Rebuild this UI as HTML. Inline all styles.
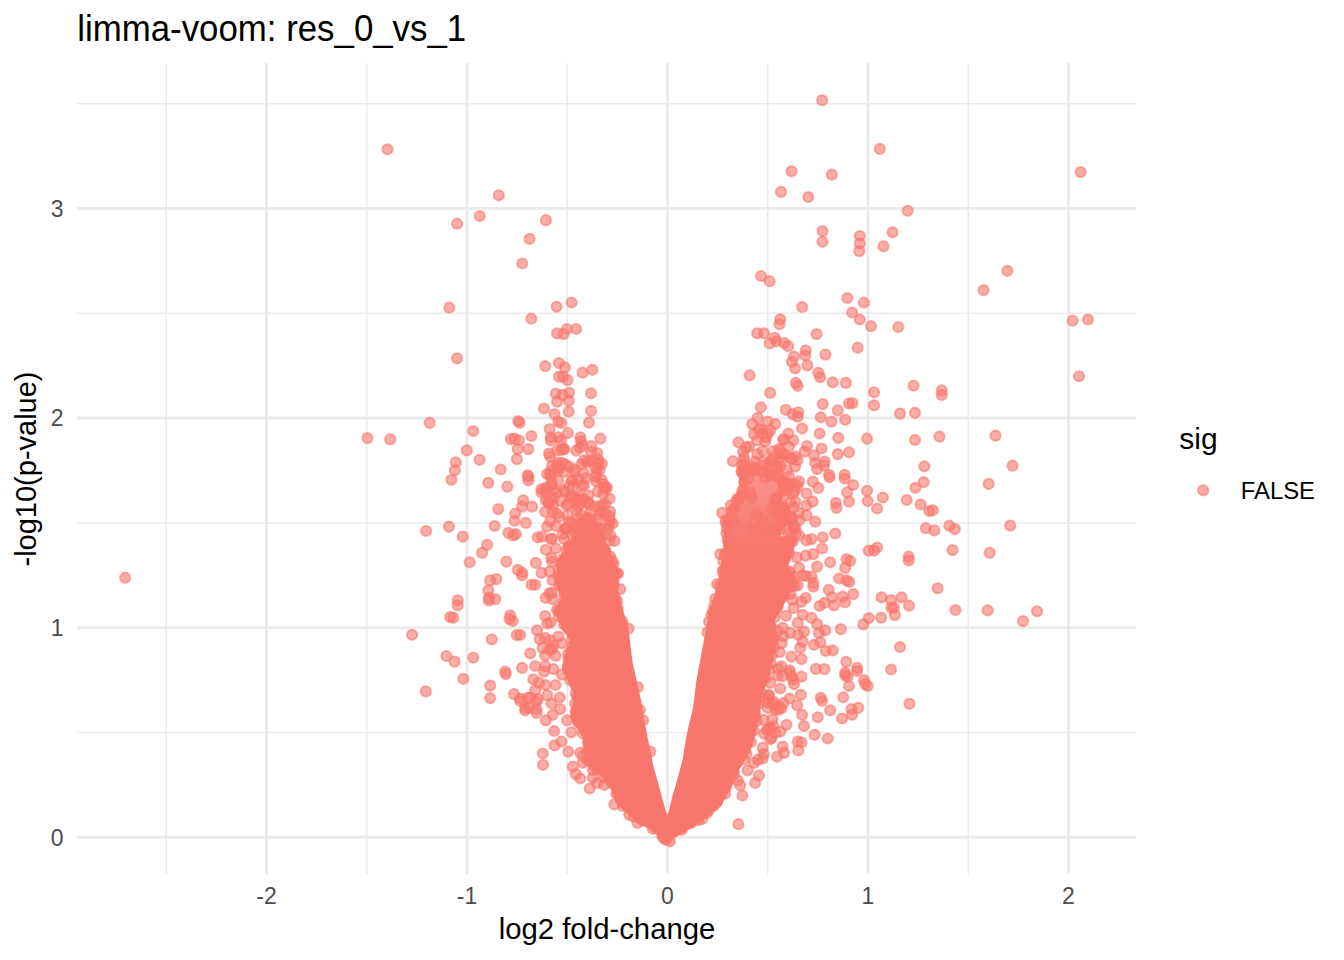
<!DOCTYPE html>
<html><head><meta charset="utf-8"><style>
html,body{margin:0;padding:0;background:#fff;}
svg{display:block;font-family:"Liberation Sans",sans-serif;}
</style></head><body>
<svg width="1344" height="960" viewBox="0 0 1344 960">
<rect width="1344" height="960" fill="#fff"/>
<line x1="166.25" y1="63" x2="166.25" y2="874" stroke="#EBEBEB" stroke-width="1.5"/><line x1="366.75" y1="63" x2="366.75" y2="874" stroke="#EBEBEB" stroke-width="1.5"/><line x1="567.25" y1="63" x2="567.25" y2="874" stroke="#EBEBEB" stroke-width="1.5"/><line x1="767.75" y1="63" x2="767.75" y2="874" stroke="#EBEBEB" stroke-width="1.5"/><line x1="968.25" y1="63" x2="968.25" y2="874" stroke="#EBEBEB" stroke-width="1.5"/><line x1="77" y1="732.50" x2="1136" y2="732.50" stroke="#EBEBEB" stroke-width="1.5"/><line x1="77" y1="522.90" x2="1136" y2="522.90" stroke="#EBEBEB" stroke-width="1.5"/><line x1="77" y1="313.30" x2="1136" y2="313.30" stroke="#EBEBEB" stroke-width="1.5"/><line x1="77" y1="103.70" x2="1136" y2="103.70" stroke="#EBEBEB" stroke-width="1.5"/><line x1="266.50" y1="63" x2="266.50" y2="874" stroke="#EBEBEB" stroke-width="3"/><line x1="467.00" y1="63" x2="467.00" y2="874" stroke="#EBEBEB" stroke-width="3"/><line x1="667.50" y1="63" x2="667.50" y2="874" stroke="#EBEBEB" stroke-width="3"/><line x1="868.00" y1="63" x2="868.00" y2="874" stroke="#EBEBEB" stroke-width="3"/><line x1="1068.50" y1="63" x2="1068.50" y2="874" stroke="#EBEBEB" stroke-width="3"/><line x1="77" y1="837.30" x2="1136" y2="837.30" stroke="#EBEBEB" stroke-width="3"/><line x1="77" y1="627.70" x2="1136" y2="627.70" stroke="#EBEBEB" stroke-width="3"/><line x1="77" y1="418.10" x2="1136" y2="418.10" stroke="#EBEBEB" stroke-width="3"/><line x1="77" y1="208.50" x2="1136" y2="208.50" stroke="#EBEBEB" stroke-width="3"/>
<defs><linearGradient id="cg" gradientUnits="userSpaceOnUse" x1="0" y1="475" x2="0" y2="545"><stop offset="0" stop-color="#F8766D" stop-opacity="0.78"/><stop offset="1" stop-color="#F8766D" stop-opacity="1"/></linearGradient></defs><path d="M667.5,817.0 L672.3,796.5 L676.7,781.7 L682.7,759.3 L685.7,740.0 L689.3,723.0 L692.9,708.6 L696.5,679.9 L700.1,660.7 L704.9,634.4 L709.2,611.0 L717.5,586.0 L723.8,548.0 L723.8,519.0 L738.3,492.0 L740.0,470.0 L755.0,465.0 L767.5,469.0 L792.5,481.7 L780.0,502.5 L788.3,519.0 L780.0,536.0 L796.7,540.0 L788.3,565.0 L796.7,581.7 L788.3,596.0 L775.0,620.0 L777.0,640.0 L773.0,661.0 L769.0,678.0 L762.0,695.0 L760.0,714.0 L755.0,736.0 L750.0,752.0 L740.0,768.0 L732.0,786.0 L721.0,806.0 L705.0,819.0 L690.0,829.0 L676.0,837.0 L667.5,842.7 Z" fill="url(#cg)"/><path d="M667.5,817.0 L653.3,765.8 L645.0,724.2 L640.8,699.2 L632.5,661.7 L628.3,627.5 L622.0,606.7 L617.9,590.0 L620.0,573.3 L612.0,555.0 L600.0,530.0 L590.0,512.0 L582.0,516.0 L572.0,540.0 L557.5,560.8 L555.4,585.8 L561.7,598.3 L553.3,610.8 L561.7,627.5 L570.0,640.8 L561.7,667.9 L574.2,695.0 L570.0,717.9 L582.5,736.7 L584.6,761.7 L609.6,784.6 L615.8,803.3 L630.4,815.8 L636.5,823.3 L647.0,827.8 L657.4,835.2 L667.5,842.7 Z" fill="url(#cg)"/><path d="M667.5,815.0 L675.0,828.0 L672.0,841.0 L663.0,841.0 L660.0,828.0 Z" fill="url(#cg)"/>
<g fill="#F8766D" fill-opacity="0.6" stroke="#F8766D" stroke-opacity="0.6" stroke-width="2">
<circle cx="387.6" cy="149.3" r="5.1"/><circle cx="498.8" cy="195.3" r="5.1"/><circle cx="479.8" cy="216.0" r="5.1"/><circle cx="457.1" cy="223.7" r="5.1"/><circle cx="545.9" cy="220.2" r="5.1"/><circle cx="822.2" cy="100.3" r="5.1"/><circle cx="879.8" cy="148.9" r="5.1"/><circle cx="791.5" cy="171.3" r="5.1"/><circle cx="831.9" cy="174.7" r="5.1"/><circle cx="781.0" cy="191.9" r="5.1"/><circle cx="808.3" cy="197.0" r="5.1"/><circle cx="907.7" cy="210.8" r="5.1"/><circle cx="1080.7" cy="172.1" r="5.1"/><circle cx="529.6" cy="238.9" r="5.1"/><circle cx="522.2" cy="263.5" r="5.1"/><circle cx="449.3" cy="307.7" r="5.1"/><circle cx="531.3" cy="318.7" r="5.1"/><circle cx="457.1" cy="358.4" r="5.1"/><circle cx="545.3" cy="366.1" r="5.1"/><circle cx="556.6" cy="306.8" r="5.1"/><circle cx="571.6" cy="302.5" r="5.1"/><circle cx="566.9" cy="329.0" r="5.1"/><circle cx="576.1" cy="329.0" r="5.1"/><circle cx="557.1" cy="333.4" r="5.1"/><circle cx="563.6" cy="334.1" r="5.1"/><circle cx="558.9" cy="363.0" r="5.1"/><circle cx="564.8" cy="367.4" r="5.1"/><circle cx="563.2" cy="376.8" r="5.1"/><circle cx="567.6" cy="380.1" r="5.1"/><circle cx="582.6" cy="372.6" r="5.1"/><circle cx="592.4" cy="369.8" r="5.1"/><circle cx="429.6" cy="422.9" r="5.1"/><circle cx="473.3" cy="431.0" r="5.1"/><circle cx="466.8" cy="450.4" r="5.1"/><circle cx="479.6" cy="459.8" r="5.1"/><circle cx="455.8" cy="462.3" r="5.1"/><circle cx="454.9" cy="470.4" r="5.1"/><circle cx="451.4" cy="479.8" r="5.1"/><circle cx="500.6" cy="469.5" r="5.1"/><circle cx="488.3" cy="482.9" r="5.1"/><circle cx="507.3" cy="486.6" r="5.1"/><circle cx="518.3" cy="421.0" r="5.1"/><circle cx="519.6" cy="422.9" r="5.1"/><circle cx="510.8" cy="439.1" r="5.1"/><circle cx="514.6" cy="438.5" r="5.1"/><circle cx="519.0" cy="440.4" r="5.1"/><circle cx="531.5" cy="436.0" r="5.1"/><circle cx="517.7" cy="449.1" r="5.1"/><circle cx="528.3" cy="449.1" r="5.1"/><circle cx="516.8" cy="459.1" r="5.1"/><circle cx="527.7" cy="475.4" r="5.1"/><circle cx="528.3" cy="476.6" r="5.1"/><circle cx="544.0" cy="408.5" r="5.1"/><circle cx="555.8" cy="393.5" r="5.1"/><circle cx="557.1" cy="401.6" r="5.1"/><circle cx="554.6" cy="414.1" r="5.1"/><circle cx="549.6" cy="429.1" r="5.1"/><circle cx="550.8" cy="437.3" r="5.1"/><circle cx="558.3" cy="437.3" r="5.1"/><circle cx="558.3" cy="421.6" r="5.1"/><circle cx="549.0" cy="453.5" r="5.1"/><circle cx="550.2" cy="456.6" r="5.1"/><circle cx="557.1" cy="450.4" r="5.1"/><circle cx="558.3" cy="462.9" r="5.1"/><circle cx="558.3" cy="470.4" r="5.1"/><circle cx="547.1" cy="474.1" r="5.1"/><circle cx="551.5" cy="477.3" r="5.1"/><circle cx="550.8" cy="485.4" r="5.1"/><circle cx="541.5" cy="489.1" r="5.1"/><circle cx="559.0" cy="376.6" r="5.1"/><circle cx="528.3" cy="480.4" r="5.1"/><circle cx="498.3" cy="509.1" r="5.1"/><circle cx="523.3" cy="500.4" r="5.1"/><circle cx="522.1" cy="506.6" r="5.1"/><circle cx="515.2" cy="513.5" r="5.1"/><circle cx="532.1" cy="506.6" r="5.1"/><circle cx="514.6" cy="521.0" r="5.1"/><circle cx="525.8" cy="522.9" r="5.1"/><circle cx="494.6" cy="526.0" r="5.1"/><circle cx="448.9" cy="526.6" r="5.1"/><circle cx="426.1" cy="531.0" r="5.1"/><circle cx="462.7" cy="536.6" r="5.1"/><circle cx="508.3" cy="532.9" r="5.1"/><circle cx="513.3" cy="535.4" r="5.1"/><circle cx="515.8" cy="534.1" r="5.1"/><circle cx="537.7" cy="537.3" r="5.1"/><circle cx="487.1" cy="544.8" r="5.1"/><circle cx="482.1" cy="552.9" r="5.1"/><circle cx="469.6" cy="562.3" r="5.1"/><circle cx="506.4" cy="561.6" r="5.1"/><circle cx="517.7" cy="569.8" r="5.1"/><circle cx="522.1" cy="575.4" r="5.1"/><circle cx="535.8" cy="562.9" r="5.1"/><circle cx="541.5" cy="572.9" r="5.1"/><circle cx="531.5" cy="584.8" r="5.1"/><circle cx="535.2" cy="584.8" r="5.1"/><circle cx="490.2" cy="580.4" r="5.1"/><circle cx="496.4" cy="579.1" r="5.1"/><circle cx="488.3" cy="590.4" r="5.1"/><circle cx="488.9" cy="597.9" r="5.1"/><circle cx="495.2" cy="599.1" r="5.1"/><circle cx="457.7" cy="600.4" r="5.1"/><circle cx="541.5" cy="492.3" r="5.1"/><circle cx="545.8" cy="500.4" r="5.1"/><circle cx="545.2" cy="511.6" r="5.1"/><circle cx="547.1" cy="526.6" r="5.1"/><circle cx="555.8" cy="526.0" r="5.1"/><circle cx="552.1" cy="538.5" r="5.1"/><circle cx="545.8" cy="549.8" r="5.1"/><circle cx="555.8" cy="548.5" r="5.1"/><circle cx="552.1" cy="561.6" r="5.1"/><circle cx="549.6" cy="571.6" r="5.1"/><circle cx="552.7" cy="580.4" r="5.1"/><circle cx="552.1" cy="592.9" r="5.1"/><circle cx="545.8" cy="597.9" r="5.1"/><circle cx="488.9" cy="600.4" r="5.1"/><circle cx="457.7" cy="605.4" r="5.1"/><circle cx="453.3" cy="617.6" r="5.1"/><circle cx="510.2" cy="615.4" r="5.1"/><circle cx="509.6" cy="619.1" r="5.1"/><circle cx="512.7" cy="621.0" r="5.1"/><circle cx="412.1" cy="634.8" r="5.1"/><circle cx="491.8" cy="639.4" r="5.1"/><circle cx="516.7" cy="635.1" r="5.1"/><circle cx="446.4" cy="656.0" r="5.1"/><circle cx="454.6" cy="661.6" r="5.1"/><circle cx="473.3" cy="657.6" r="5.1"/><circle cx="463.3" cy="678.8" r="5.1"/><circle cx="490.2" cy="685.6" r="5.1"/><circle cx="490.2" cy="698.1" r="5.1"/><circle cx="425.8" cy="691.4" r="5.1"/><circle cx="505.2" cy="671.6" r="5.1"/><circle cx="505.8" cy="674.1" r="5.1"/><circle cx="522.1" cy="667.9" r="5.1"/><circle cx="530.2" cy="653.5" r="5.1"/><circle cx="535.2" cy="666.0" r="5.1"/><circle cx="544.0" cy="671.6" r="5.1"/><circle cx="553.3" cy="669.1" r="5.1"/><circle cx="533.3" cy="679.4" r="5.1"/><circle cx="539.0" cy="682.9" r="5.1"/><circle cx="514.0" cy="694.1" r="5.1"/><circle cx="520.2" cy="698.5" r="5.1"/><circle cx="535.2" cy="690.4" r="5.1"/><circle cx="537.7" cy="699.1" r="5.1"/><circle cx="527.7" cy="697.9" r="5.1"/><circle cx="525.2" cy="707.9" r="5.1"/><circle cx="536.5" cy="709.1" r="5.1"/><circle cx="552.7" cy="599.1" r="5.1"/><circle cx="545.2" cy="616.0" r="5.1"/><circle cx="537.1" cy="630.4" r="5.1"/><circle cx="539.6" cy="639.1" r="5.1"/><circle cx="545.2" cy="637.9" r="5.1"/><circle cx="550.2" cy="640.4" r="5.1"/><circle cx="558.3" cy="636.6" r="5.1"/><circle cx="542.7" cy="647.9" r="5.1"/><circle cx="545.2" cy="655.4" r="5.1"/><circle cx="552.1" cy="649.1" r="5.1"/><circle cx="520.2" cy="701.0" r="5.1"/><circle cx="525.2" cy="710.4" r="5.1"/><circle cx="529.0" cy="707.9" r="5.1"/><circle cx="536.5" cy="712.9" r="5.1"/><circle cx="536.5" cy="701.6" r="5.1"/><circle cx="545.8" cy="720.4" r="5.1"/><circle cx="552.7" cy="714.8" r="5.1"/><circle cx="551.5" cy="703.5" r="5.1"/><circle cx="560.2" cy="709.1" r="5.1"/><circle cx="567.1" cy="720.4" r="5.1"/><circle cx="554.2" cy="731.0" r="5.1"/><circle cx="554.6" cy="745.4" r="5.1"/><circle cx="561.5" cy="741.6" r="5.1"/><circle cx="568.3" cy="751.6" r="5.1"/><circle cx="571.5" cy="732.3" r="5.1"/><circle cx="542.7" cy="753.5" r="5.1"/><circle cx="543.0" cy="764.8" r="5.1"/><circle cx="572.7" cy="766.6" r="5.1"/><circle cx="575.8" cy="774.1" r="5.1"/><circle cx="580.2" cy="778.5" r="5.1"/><circle cx="589.6" cy="788.5" r="5.1"/><circle cx="592.7" cy="777.9" r="5.1"/><circle cx="582.7" cy="762.9" r="5.1"/><circle cx="580.2" cy="752.9" r="5.1"/><circle cx="562.5" cy="394.9" r="5.1"/><circle cx="569.1" cy="392.9" r="5.1"/><circle cx="568.7" cy="400.7" r="5.1"/><circle cx="568.7" cy="411.6" r="5.1"/><circle cx="591.0" cy="393.3" r="5.1"/><circle cx="591.0" cy="410.9" r="5.1"/><circle cx="589.0" cy="422.6" r="5.1"/><circle cx="561.3" cy="423.0" r="5.1"/><circle cx="567.9" cy="433.1" r="5.1"/><circle cx="580.4" cy="437.4" r="5.1"/><circle cx="600.4" cy="438.6" r="5.1"/><circle cx="582.4" cy="445.2" r="5.1"/><circle cx="561.3" cy="449.9" r="5.1"/><circle cx="576.1" cy="450.7" r="5.1"/><circle cx="591.0" cy="451.5" r="5.1"/><circle cx="597.2" cy="453.1" r="5.1"/><circle cx="550.8" cy="440.4" r="5.1"/><circle cx="560.8" cy="440.4" r="5.1"/><circle cx="580.8" cy="441.0" r="5.1"/><circle cx="584.0" cy="460.4" r="5.1"/><circle cx="562.1" cy="462.9" r="5.1"/><circle cx="569.0" cy="466.6" r="5.1"/><circle cx="581.5" cy="464.1" r="5.1"/><circle cx="599.6" cy="469.8" r="5.1"/><circle cx="595.2" cy="476.6" r="5.1"/><circle cx="584.0" cy="473.5" r="5.1"/><circle cx="603.3" cy="484.1" r="5.1"/><circle cx="564.0" cy="471.6" r="5.1"/><circle cx="571.5" cy="480.4" r="5.1"/><circle cx="572.7" cy="486.6" r="5.1"/><circle cx="584.0" cy="485.4" r="5.1"/><circle cx="597.7" cy="491.6" r="5.1"/><circle cx="609.6" cy="498.5" r="5.1"/><circle cx="605.2" cy="504.1" r="5.1"/><circle cx="600.2" cy="506.6" r="5.1"/><circle cx="545.2" cy="491.6" r="5.1"/><circle cx="552.7" cy="490.4" r="5.1"/><circle cx="554.0" cy="497.9" r="5.1"/><circle cx="548.3" cy="501.6" r="5.1"/><circle cx="565.2" cy="491.6" r="5.1"/><circle cx="570.2" cy="497.9" r="5.1"/><circle cx="566.5" cy="505.4" r="5.1"/><circle cx="576.5" cy="500.4" r="5.1"/><circle cx="584.0" cy="499.1" r="5.1"/><circle cx="588.3" cy="495.4" r="5.1"/><circle cx="552.7" cy="511.6" r="5.1"/><circle cx="559.0" cy="516.6" r="5.1"/><circle cx="567.7" cy="515.4" r="5.1"/><circle cx="576.5" cy="510.4" r="5.1"/><circle cx="581.5" cy="515.4" r="5.1"/><circle cx="590.2" cy="512.9" r="5.1"/><circle cx="599.0" cy="515.4" r="5.1"/><circle cx="605.2" cy="514.1" r="5.1"/><circle cx="569.0" cy="521.6" r="5.1"/><circle cx="576.5" cy="527.9" r="5.1"/><circle cx="590.2" cy="525.4" r="5.1"/><circle cx="599.0" cy="527.9" r="5.1"/><circle cx="607.7" cy="529.1" r="5.1"/><circle cx="610.2" cy="535.4" r="5.1"/><circle cx="609.6" cy="540.4" r="5.1"/><circle cx="542.1" cy="536.6" r="5.1"/><circle cx="564.0" cy="539.1" r="5.1"/><circle cx="572.7" cy="535.4" r="5.1"/><circle cx="581.5" cy="535.4" r="5.1"/><circle cx="592.7" cy="535.4" r="5.1"/><circle cx="600.2" cy="537.9" r="5.1"/><circle cx="566.5" cy="550.4" r="5.1"/><circle cx="577.7" cy="546.6" r="5.1"/><circle cx="587.7" cy="545.4" r="5.1"/><circle cx="596.5" cy="547.9" r="5.1"/><circle cx="605.2" cy="550.4" r="5.1"/><circle cx="610.2" cy="556.6" r="5.1"/><circle cx="551.5" cy="557.9" r="5.1"/><circle cx="562.7" cy="559.1" r="5.1"/><circle cx="574.0" cy="556.6" r="5.1"/><circle cx="584.0" cy="555.4" r="5.1"/><circle cx="595.2" cy="555.4" r="5.1"/><circle cx="605.2" cy="559.1" r="5.1"/><circle cx="892.5" cy="232.3" r="5.1"/><circle cx="1007.4" cy="270.8" r="5.1"/><circle cx="983.6" cy="290.1" r="5.1"/><circle cx="898.3" cy="327.0" r="5.1"/><circle cx="1072.6" cy="320.7" r="5.1"/><circle cx="1088.0" cy="319.5" r="5.1"/><circle cx="1079.0" cy="376.3" r="5.1"/><circle cx="913.6" cy="385.7" r="5.1"/><circle cx="941.8" cy="390.4" r="5.1"/><circle cx="941.8" cy="395.0" r="5.1"/><circle cx="900.0" cy="413.6" r="5.1"/><circle cx="915.0" cy="412.8" r="5.1"/><circle cx="915.0" cy="440.0" r="5.1"/><circle cx="939.5" cy="436.7" r="5.1"/><circle cx="995.6" cy="435.7" r="5.1"/><circle cx="924.3" cy="466.3" r="5.1"/><circle cx="1012.5" cy="465.7" r="5.1"/><circle cx="923.6" cy="482.2" r="5.1"/><circle cx="915.5" cy="487.8" r="5.1"/><circle cx="988.6" cy="483.9" r="5.1"/><circle cx="906.7" cy="500.0" r="5.1"/><circle cx="920.6" cy="504.5" r="5.1"/><circle cx="932.8" cy="510.3" r="5.1"/><circle cx="925.8" cy="528.2" r="5.1"/><circle cx="934.3" cy="530.4" r="5.1"/><circle cx="949.3" cy="525.7" r="5.1"/><circle cx="954.9" cy="529.1" r="5.1"/><circle cx="1010.2" cy="525.7" r="5.1"/><circle cx="952.5" cy="550.1" r="5.1"/><circle cx="989.6" cy="552.9" r="5.1"/><circle cx="908.6" cy="556.7" r="5.1"/><circle cx="937.6" cy="588.3" r="5.1"/><circle cx="901.5" cy="597.3" r="5.1"/><circle cx="909.0" cy="605.7" r="5.1"/><circle cx="955.5" cy="610.0" r="5.1"/><circle cx="987.7" cy="610.4" r="5.1"/><circle cx="1037.0" cy="611.3" r="5.1"/><circle cx="1023.0" cy="621.1" r="5.1"/><circle cx="900.0" cy="647.0" r="5.1"/><circle cx="909.5" cy="703.8" r="5.1"/><circle cx="891.1" cy="600.1" r="5.1"/><circle cx="894.0" cy="607.6" r="5.1"/><circle cx="894.9" cy="615.1" r="5.1"/><circle cx="891.1" cy="669.5" r="5.1"/><circle cx="830.2" cy="562.3" r="5.1"/><circle cx="850.2" cy="561.0" r="5.1"/><circle cx="908.7" cy="560.4" r="5.1"/><circle cx="799.0" cy="567.9" r="5.1"/><circle cx="817.1" cy="566.6" r="5.1"/><circle cx="845.2" cy="567.9" r="5.1"/><circle cx="839.2" cy="578.5" r="5.1"/><circle cx="849.2" cy="581.9" r="5.1"/><circle cx="813.3" cy="586.6" r="5.1"/><circle cx="805.8" cy="576.0" r="5.1"/><circle cx="811.5" cy="576.6" r="5.1"/><circle cx="828.7" cy="589.8" r="5.1"/><circle cx="832.1" cy="597.3" r="5.1"/><circle cx="842.7" cy="596.6" r="5.1"/><circle cx="853.3" cy="594.1" r="5.1"/><circle cx="819.6" cy="606.0" r="5.1"/><circle cx="824.6" cy="602.9" r="5.1"/><circle cx="834.0" cy="605.4" r="5.1"/><circle cx="845.2" cy="602.3" r="5.1"/><circle cx="801.5" cy="601.6" r="5.1"/><circle cx="805.8" cy="597.9" r="5.1"/><circle cx="881.5" cy="597.3" r="5.1"/><circle cx="891.5" cy="607.9" r="5.1"/><circle cx="881.2" cy="617.6" r="5.1"/><circle cx="868.7" cy="618.1" r="5.1"/><circle cx="863.3" cy="624.4" r="5.1"/><circle cx="802.7" cy="614.8" r="5.1"/><circle cx="811.5" cy="617.9" r="5.1"/><circle cx="817.1" cy="624.1" r="5.1"/><circle cx="825.2" cy="630.4" r="5.1"/><circle cx="819.0" cy="632.9" r="5.1"/><circle cx="840.8" cy="629.1" r="5.1"/><circle cx="804.0" cy="631.6" r="5.1"/><circle cx="797.7" cy="622.9" r="5.1"/><circle cx="802.7" cy="641.6" r="5.1"/><circle cx="814.0" cy="644.8" r="5.1"/><circle cx="820.2" cy="642.3" r="5.1"/><circle cx="825.8" cy="651.0" r="5.1"/><circle cx="832.7" cy="650.4" r="5.1"/><circle cx="846.2" cy="661.9" r="5.1"/><circle cx="857.1" cy="667.9" r="5.1"/><circle cx="815.8" cy="668.9" r="5.1"/><circle cx="824.6" cy="669.1" r="5.1"/><circle cx="845.2" cy="672.9" r="5.1"/><circle cx="847.7" cy="676.6" r="5.1"/><circle cx="864.0" cy="680.4" r="5.1"/><circle cx="801.5" cy="659.1" r="5.1"/><circle cx="800.2" cy="647.9" r="5.1"/><circle cx="789.6" cy="670.4" r="5.1"/><circle cx="777.7" cy="675.4" r="5.1"/><circle cx="801.5" cy="676.6" r="5.1"/><circle cx="790.2" cy="632.9" r="5.1"/><circle cx="791.5" cy="656.6" r="5.1"/><circle cx="797.7" cy="585.4" r="5.1"/><circle cx="789.0" cy="576.6" r="5.1"/><circle cx="790.2" cy="672.9" r="5.1"/><circle cx="791.5" cy="676.6" r="5.1"/><circle cx="794.0" cy="684.1" r="5.1"/><circle cx="845.2" cy="675.4" r="5.1"/><circle cx="849.0" cy="686.0" r="5.1"/><circle cx="857.1" cy="671.0" r="5.1"/><circle cx="865.2" cy="684.1" r="5.1"/><circle cx="867.7" cy="686.0" r="5.1"/><circle cx="780.2" cy="688.5" r="5.1"/><circle cx="789.6" cy="698.5" r="5.1"/><circle cx="800.8" cy="694.8" r="5.1"/><circle cx="797.1" cy="705.4" r="5.1"/><circle cx="820.8" cy="697.9" r="5.1"/><circle cx="822.1" cy="701.0" r="5.1"/><circle cx="843.3" cy="697.3" r="5.1"/><circle cx="830.2" cy="710.4" r="5.1"/><circle cx="851.5" cy="709.1" r="5.1"/><circle cx="858.3" cy="707.9" r="5.1"/><circle cx="852.1" cy="714.8" r="5.1"/><circle cx="842.1" cy="718.5" r="5.1"/><circle cx="817.7" cy="717.3" r="5.1"/><circle cx="802.1" cy="714.8" r="5.1"/><circle cx="786.5" cy="724.8" r="5.1"/><circle cx="804.0" cy="726.0" r="5.1"/><circle cx="814.6" cy="734.8" r="5.1"/><circle cx="827.7" cy="738.5" r="5.1"/><circle cx="797.7" cy="741.6" r="5.1"/><circle cx="801.5" cy="742.3" r="5.1"/><circle cx="798.3" cy="750.4" r="5.1"/><circle cx="782.7" cy="746.6" r="5.1"/><circle cx="784.0" cy="752.9" r="5.1"/><circle cx="777.1" cy="756.6" r="5.1"/><circle cx="762.7" cy="758.5" r="5.1"/><circle cx="759.0" cy="775.4" r="5.1"/><circle cx="755.2" cy="782.9" r="5.1"/><circle cx="770.2" cy="739.1" r="5.1"/><circle cx="762.7" cy="747.9" r="5.1"/><circle cx="780.2" cy="731.6" r="5.1"/><circle cx="770.2" cy="727.9" r="5.1"/><circle cx="767.7" cy="707.9" r="5.1"/><circle cx="775.2" cy="709.1" r="5.1"/><circle cx="737.7" cy="780.4" r="5.1"/><circle cx="740.2" cy="785.4" r="5.1"/><circle cx="747.7" cy="770.4" r="5.1"/><circle cx="754.0" cy="762.9" r="5.1"/><circle cx="770.2" cy="682.9" r="5.1"/><circle cx="769.0" cy="699.1" r="5.1"/><circle cx="779.0" cy="706.6" r="5.1"/><circle cx="738.4" cy="824.2" r="5.1"/><circle cx="742.4" cy="795.5" r="5.1"/><circle cx="614.4" cy="804.4" r="5.1"/><circle cx="629.3" cy="814.8" r="5.1"/><circle cx="637.5" cy="823.0" r="5.1"/><circle cx="604.0" cy="785.0" r="5.1"/><circle cx="822.5" cy="231.0" r="5.1"/><circle cx="822.5" cy="241.7" r="5.1"/><circle cx="859.8" cy="236.0" r="5.1"/><circle cx="859.8" cy="243.4" r="5.1"/><circle cx="859.3" cy="251.1" r="5.1"/><circle cx="883.5" cy="246.3" r="5.1"/><circle cx="761.0" cy="276.0" r="5.1"/><circle cx="769.6" cy="281.2" r="5.1"/><circle cx="802.2" cy="307.0" r="5.1"/><circle cx="847.4" cy="298.0" r="5.1"/><circle cx="863.8" cy="302.7" r="5.1"/><circle cx="852.1" cy="312.5" r="5.1"/><circle cx="859.8" cy="319.5" r="5.1"/><circle cx="871.0" cy="326.2" r="5.1"/><circle cx="780.2" cy="319.3" r="5.1"/><circle cx="779.5" cy="324.2" r="5.1"/><circle cx="757.2" cy="333.3" r="5.1"/><circle cx="764.1" cy="333.3" r="5.1"/><circle cx="774.7" cy="337.9" r="5.1"/><circle cx="769.6" cy="343.4" r="5.1"/><circle cx="776.5" cy="341.3" r="5.1"/><circle cx="784.2" cy="343.1" r="5.1"/><circle cx="788.1" cy="346.2" r="5.1"/><circle cx="794.0" cy="356.5" r="5.1"/><circle cx="791.9" cy="362.0" r="5.1"/><circle cx="816.5" cy="334.1" r="5.1"/><circle cx="805.7" cy="350.3" r="5.1"/><circle cx="825.4" cy="354.6" r="5.1"/><circle cx="857.6" cy="347.7" r="5.1"/><circle cx="807.4" cy="365.4" r="5.1"/><circle cx="795.2" cy="368.5" r="5.1"/><circle cx="805.2" cy="355.4" r="5.1"/><circle cx="818.3" cy="372.9" r="5.1"/><circle cx="820.2" cy="377.3" r="5.1"/><circle cx="832.7" cy="382.3" r="5.1"/><circle cx="845.8" cy="382.9" r="5.1"/><circle cx="795.8" cy="382.9" r="5.1"/><circle cx="797.7" cy="386.0" r="5.1"/><circle cx="749.6" cy="375.4" r="5.1"/><circle cx="770.2" cy="392.9" r="5.1"/><circle cx="760.8" cy="407.3" r="5.1"/><circle cx="785.8" cy="409.8" r="5.1"/><circle cx="792.7" cy="414.1" r="5.1"/><circle cx="798.3" cy="412.3" r="5.1"/><circle cx="797.7" cy="416.6" r="5.1"/><circle cx="822.7" cy="404.1" r="5.1"/><circle cx="849.0" cy="403.5" r="5.1"/><circle cx="837.7" cy="410.4" r="5.1"/><circle cx="820.8" cy="417.3" r="5.1"/><circle cx="831.5" cy="421.6" r="5.1"/><circle cx="845.2" cy="419.8" r="5.1"/><circle cx="757.7" cy="417.9" r="5.1"/><circle cx="752.1" cy="424.1" r="5.1"/><circle cx="767.7" cy="421.6" r="5.1"/><circle cx="775.2" cy="424.1" r="5.1"/><circle cx="802.1" cy="428.5" r="5.1"/><circle cx="819.6" cy="433.5" r="5.1"/><circle cx="838.3" cy="437.9" r="5.1"/><circle cx="754.0" cy="434.1" r="5.1"/><circle cx="767.7" cy="433.5" r="5.1"/><circle cx="770.2" cy="430.4" r="5.1"/><circle cx="757.1" cy="440.4" r="5.1"/><circle cx="788.3" cy="433.5" r="5.1"/><circle cx="783.3" cy="439.8" r="5.1"/><circle cx="793.3" cy="440.4" r="5.1"/><circle cx="738.3" cy="442.3" r="5.1"/><circle cx="749.0" cy="446.6" r="5.1"/><circle cx="743.3" cy="451.6" r="5.1"/><circle cx="757.1" cy="454.1" r="5.1"/><circle cx="762.7" cy="451.0" r="5.1"/><circle cx="773.3" cy="451.0" r="5.1"/><circle cx="779.0" cy="449.1" r="5.1"/><circle cx="807.1" cy="446.0" r="5.1"/><circle cx="804.6" cy="451.6" r="5.1"/><circle cx="814.0" cy="455.4" r="5.1"/><circle cx="821.5" cy="448.5" r="5.1"/><circle cx="837.7" cy="454.1" r="5.1"/><circle cx="849.0" cy="452.3" r="5.1"/><circle cx="795.2" cy="456.6" r="5.1"/><circle cx="791.5" cy="459.1" r="5.1"/><circle cx="824.6" cy="461.6" r="5.1"/><circle cx="815.2" cy="462.9" r="5.1"/><circle cx="817.1" cy="469.1" r="5.1"/><circle cx="795.2" cy="466.6" r="5.1"/><circle cx="780.2" cy="466.6" r="5.1"/><circle cx="787.1" cy="470.4" r="5.1"/><circle cx="762.7" cy="461.6" r="5.1"/><circle cx="744.0" cy="465.4" r="5.1"/><circle cx="741.5" cy="471.6" r="5.1"/><circle cx="755.2" cy="469.1" r="5.1"/><circle cx="764.0" cy="471.6" r="5.1"/><circle cx="829.0" cy="474.8" r="5.1"/><circle cx="844.6" cy="474.8" r="5.1"/><circle cx="777.7" cy="474.1" r="5.1"/><circle cx="722.1" cy="512.9" r="5.1"/><circle cx="730.8" cy="505.4" r="5.1"/><circle cx="739.0" cy="499.1" r="5.1"/><circle cx="727.7" cy="524.1" r="5.1"/><circle cx="726.5" cy="533.5" r="5.1"/><circle cx="728.3" cy="541.6" r="5.1"/><circle cx="720.2" cy="554.1" r="5.1"/><circle cx="722.7" cy="571.6" r="5.1"/><circle cx="717.1" cy="584.1" r="5.1"/><circle cx="741.5" cy="465.4" r="5.1"/><circle cx="776.5" cy="467.3" r="5.1"/><circle cx="824.0" cy="465.4" r="5.1"/><circle cx="829.6" cy="477.3" r="5.1"/><circle cx="844.6" cy="478.5" r="5.1"/><circle cx="812.7" cy="481.6" r="5.1"/><circle cx="818.3" cy="487.9" r="5.1"/><circle cx="847.1" cy="492.3" r="5.1"/><circle cx="849.0" cy="501.6" r="5.1"/><circle cx="835.8" cy="502.9" r="5.1"/><circle cx="836.5" cy="507.9" r="5.1"/><circle cx="806.5" cy="493.5" r="5.1"/><circle cx="812.7" cy="501.6" r="5.1"/><circle cx="806.5" cy="505.4" r="5.1"/><circle cx="797.7" cy="486.6" r="5.1"/><circle cx="790.2" cy="502.9" r="5.1"/><circle cx="783.3" cy="506.6" r="5.1"/><circle cx="799.0" cy="512.9" r="5.1"/><circle cx="815.2" cy="521.6" r="5.1"/><circle cx="806.5" cy="515.4" r="5.1"/><circle cx="794.0" cy="527.9" r="5.1"/><circle cx="799.0" cy="535.4" r="5.1"/><circle cx="806.5" cy="540.4" r="5.1"/><circle cx="811.5" cy="539.1" r="5.1"/><circle cx="822.7" cy="537.3" r="5.1"/><circle cx="835.2" cy="533.5" r="5.1"/><circle cx="822.1" cy="548.5" r="5.1"/><circle cx="813.3" cy="554.1" r="5.1"/><circle cx="792.7" cy="541.6" r="5.1"/><circle cx="846.5" cy="559.1" r="5.1"/><circle cx="846.5" cy="580.4" r="5.1"/><circle cx="802.7" cy="575.4" r="5.1"/><circle cx="813.3" cy="582.9" r="5.1"/><circle cx="790.2" cy="519.1" r="5.1"/><circle cx="785.2" cy="520.4" r="5.1"/><circle cx="772.7" cy="509.1" r="5.1"/><circle cx="784.0" cy="495.4" r="5.1"/><circle cx="789.0" cy="476.6" r="5.1"/><circle cx="782.7" cy="480.4" r="5.1"/><circle cx="522.3" cy="572.5" r="5.1"/><circle cx="549.4" cy="593.3" r="5.1"/><circle cx="550.4" cy="622.5" r="5.1"/><circle cx="553.5" cy="645.4" r="5.1"/><circle cx="545.2" cy="666.2" r="5.1"/><circle cx="545.2" cy="685.0" r="5.1"/><circle cx="555.6" cy="685.0" r="5.1"/><circle cx="530.6" cy="697.5" r="5.1"/><circle cx="520.2" cy="635.0" r="5.1"/><circle cx="566.0" cy="528.7" r="5.1"/><circle cx="568.1" cy="547.5" r="5.1"/><circle cx="618.1" cy="573.5" r="5.1"/><circle cx="620.2" cy="589.1" r="5.1"/><circle cx="628.5" cy="628.7" r="5.1"/><circle cx="637.9" cy="687.1" r="5.1"/><circle cx="125.2" cy="577.7" r="5.1"/><circle cx="367.5" cy="438.1" r="5.1"/><circle cx="390.2" cy="439.4" r="5.1"/><circle cx="450.2" cy="617.1" r="5.1"/><circle cx="547.3" cy="623.5" r="5.1"/><circle cx="561.9" cy="643.3" r="5.1"/><circle cx="549.4" cy="649.6" r="5.1"/><circle cx="555.6" cy="655.8" r="5.1"/><circle cx="561.9" cy="674.6" r="5.1"/><circle cx="547.3" cy="695.4" r="5.1"/><circle cx="559.8" cy="697.5" r="5.1"/><circle cx="597.3" cy="782.9" r="5.1"/><circle cx="582.7" cy="755.8" r="5.1"/><circle cx="593.1" cy="770.4" r="5.1"/><circle cx="568.1" cy="653.7" r="5.1"/><circle cx="640.0" cy="710.0" r="5.1"/><circle cx="643.1" cy="720.4" r="5.1"/><circle cx="650.4" cy="751.6" r="5.1"/><circle cx="874.0" cy="392.3" r="5.1"/><circle cx="874.0" cy="405.4" r="5.1"/><circle cx="852.5" cy="403.1" r="5.1"/><circle cx="867.1" cy="438.7" r="5.1"/><circle cx="853.1" cy="485.0" r="5.1"/><circle cx="867.1" cy="490.8" r="5.1"/><circle cx="867.7" cy="501.0" r="5.1"/><circle cx="882.9" cy="497.5" r="5.1"/><circle cx="877.1" cy="508.5" r="5.1"/><circle cx="929.2" cy="511.0" r="5.1"/><circle cx="868.7" cy="550.6" r="5.1"/><circle cx="874.0" cy="550.6" r="5.1"/><circle cx="877.1" cy="547.5" r="5.1"/><circle cx="707.4" cy="632.3" r="5.1"/><circle cx="709.0" cy="621.8" r="5.1"/><circle cx="711.4" cy="615.2" r="5.1"/><circle cx="712.7" cy="611.7" r="5.1"/><circle cx="714.4" cy="605.5" r="5.1"/><circle cx="715.3" cy="598.7" r="5.1"/><circle cx="720.9" cy="591.1" r="5.1"/><circle cx="720.0" cy="585.6" r="5.1"/><circle cx="724.4" cy="576.6" r="5.1"/><circle cx="723.3" cy="570.2" r="5.1"/><circle cx="723.3" cy="561.1" r="5.1"/><circle cx="725.2" cy="555.7" r="5.1"/><circle cx="724.8" cy="553.7" r="5.1"/><circle cx="728.6" cy="545.8" r="5.1"/><circle cx="727.6" cy="539.4" r="5.1"/><circle cx="726.8" cy="528.9" r="5.1"/><circle cx="725.6" cy="522.3" r="5.1"/><circle cx="726.0" cy="519.8" r="5.1"/><circle cx="731.5" cy="511.4" r="5.1"/><circle cx="733.9" cy="508.3" r="5.1"/><circle cx="736.2" cy="501.6" r="5.1"/><circle cx="741.5" cy="495.1" r="5.1"/><circle cx="742.2" cy="490.5" r="5.1"/><circle cx="744.1" cy="481.2" r="5.1"/><circle cx="742.5" cy="472.2" r="5.1"/><circle cx="748.0" cy="469.4" r="5.1"/><circle cx="752.1" cy="470.8" r="5.1"/><circle cx="754.9" cy="468.6" r="5.1"/><circle cx="760.2" cy="471.1" r="5.1"/><circle cx="770.6" cy="474.8" r="5.1"/><circle cx="778.0" cy="477.4" r="5.1"/><circle cx="782.6" cy="481.0" r="5.1"/><circle cx="788.4" cy="483.3" r="5.1"/><circle cx="785.4" cy="483.3" r="5.1"/><circle cx="784.3" cy="487.2" r="5.1"/><circle cx="782.4" cy="490.2" r="5.1"/><circle cx="776.4" cy="497.8" r="5.1"/><circle cx="779.9" cy="508.2" r="5.1"/><circle cx="780.1" cy="512.0" r="5.1"/><circle cx="782.6" cy="515.1" r="5.1"/><circle cx="786.1" cy="519.1" r="5.1"/><circle cx="781.3" cy="523.0" r="5.1"/><circle cx="780.2" cy="530.0" r="5.1"/><circle cx="782.1" cy="541.6" r="5.1"/><circle cx="788.3" cy="541.4" r="5.1"/><circle cx="790.8" cy="541.8" r="5.1"/><circle cx="788.2" cy="549.8" r="5.1"/><circle cx="788.9" cy="553.2" r="5.1"/><circle cx="784.9" cy="559.4" r="5.1"/><circle cx="789.1" cy="571.3" r="5.1"/><circle cx="789.4" cy="572.6" r="5.1"/><circle cx="791.5" cy="579.0" r="5.1"/><circle cx="792.0" cy="584.6" r="5.1"/><circle cx="789.7" cy="587.3" r="5.1"/><circle cx="783.8" cy="596.4" r="5.1"/><circle cx="778.1" cy="605.7" r="5.1"/><circle cx="776.5" cy="609.2" r="5.1"/><circle cx="774.6" cy="617.2" r="5.1"/><circle cx="771.0" cy="626.5" r="5.1"/><circle cx="771.6" cy="633.0" r="5.1"/><circle cx="773.5" cy="636.3" r="5.1"/><circle cx="772.9" cy="640.0" r="5.1"/><circle cx="773.8" cy="647.1" r="5.1"/><circle cx="771.9" cy="655.1" r="5.1"/><circle cx="770.7" cy="663.5" r="5.1"/><circle cx="769.0" cy="669.0" r="5.1"/><circle cx="766.0" cy="677.5" r="5.1"/><circle cx="762.0" cy="681.9" r="5.1"/><circle cx="761.0" cy="692.0" r="5.1"/><circle cx="759.0" cy="696.3" r="5.1"/><circle cx="759.1" cy="703.4" r="5.1"/><circle cx="754.7" cy="712.5" r="5.1"/><circle cx="755.9" cy="716.7" r="5.1"/><circle cx="756.3" cy="721.5" r="5.1"/><circle cx="753.6" cy="730.6" r="5.1"/><circle cx="750.9" cy="742.0" r="5.1"/><circle cx="747.4" cy="742.6" r="5.1"/><circle cx="746.5" cy="753.7" r="5.1"/><circle cx="743.5" cy="759.4" r="5.1"/><circle cx="737.0" cy="762.6" r="5.1"/><circle cx="733.8" cy="771.4" r="5.1"/><circle cx="733.9" cy="774.4" r="5.1"/><circle cx="730.0" cy="779.1" r="5.1"/><circle cx="726.0" cy="787.3" r="5.1"/><circle cx="725.0" cy="793.7" r="5.1"/><circle cx="716.9" cy="802.1" r="5.1"/><circle cx="713.5" cy="806.0" r="5.1"/><circle cx="708.5" cy="810.4" r="5.1"/><circle cx="706.9" cy="812.9" r="5.1"/><circle cx="702.3" cy="818.8" r="5.1"/><circle cx="698.4" cy="820.2" r="5.1"/><circle cx="691.3" cy="823.0" r="5.1"/><circle cx="681.7" cy="830.0" r="5.1"/><circle cx="673.7" cy="832.0" r="5.1"/><circle cx="666.2" cy="840.0" r="5.1"/><circle cx="669.9" cy="841.3" r="5.1"/><circle cx="669.8" cy="835.0" r="5.1"/><circle cx="672.6" cy="825.8" r="5.1"/><circle cx="670.9" cy="818.0" r="5.1"/><circle cx="622.4" cy="624.3" r="5.1"/><circle cx="622.1" cy="621.2" r="5.1"/><circle cx="617.8" cy="608.7" r="5.1"/><circle cx="617.1" cy="601.2" r="5.1"/><circle cx="615.1" cy="598.0" r="5.1"/><circle cx="613.6" cy="586.6" r="5.1"/><circle cx="616.9" cy="573.2" r="5.1"/><circle cx="614.1" cy="573.0" r="5.1"/><circle cx="613.4" cy="563.7" r="5.1"/><circle cx="612.4" cy="561.2" r="5.1"/><circle cx="605.0" cy="551.4" r="5.1"/><circle cx="604.2" cy="549.9" r="5.1"/><circle cx="599.3" cy="538.2" r="5.1"/><circle cx="598.6" cy="535.7" r="5.1"/><circle cx="598.2" cy="530.0" r="5.1"/><circle cx="589.8" cy="520.2" r="5.1"/><circle cx="587.0" cy="517.4" r="5.1"/><circle cx="588.8" cy="518.2" r="5.1"/><circle cx="582.1" cy="521.9" r="5.1"/><circle cx="581.3" cy="524.5" r="5.1"/><circle cx="579.9" cy="530.9" r="5.1"/><circle cx="576.8" cy="536.8" r="5.1"/><circle cx="575.7" cy="543.6" r="5.1"/><circle cx="569.8" cy="548.9" r="5.1"/><circle cx="566.8" cy="556.4" r="5.1"/><circle cx="563.8" cy="560.7" r="5.1"/><circle cx="560.9" cy="564.2" r="5.1"/><circle cx="558.3" cy="570.5" r="5.1"/><circle cx="558.4" cy="576.2" r="5.1"/><circle cx="560.6" cy="580.0" r="5.1"/><circle cx="559.0" cy="585.3" r="5.1"/><circle cx="564.2" cy="594.9" r="5.1"/><circle cx="563.3" cy="602.3" r="5.1"/><circle cx="559.0" cy="610.6" r="5.1"/><circle cx="556.9" cy="609.7" r="5.1"/><circle cx="559.1" cy="616.6" r="5.1"/><circle cx="564.2" cy="624.6" r="5.1"/><circle cx="567.9" cy="628.8" r="5.1"/><circle cx="572.4" cy="638.5" r="5.1"/><circle cx="572.1" cy="646.0" r="5.1"/><circle cx="570.9" cy="652.3" r="5.1"/><circle cx="568.4" cy="658.5" r="5.1"/><circle cx="567.8" cy="665.9" r="5.1"/><circle cx="568.4" cy="670.5" r="5.1"/><circle cx="570.1" cy="680.0" r="5.1"/><circle cx="574.5" cy="683.0" r="5.1"/><circle cx="575.6" cy="693.1" r="5.1"/><circle cx="577.2" cy="696.5" r="5.1"/><circle cx="575.1" cy="703.6" r="5.1"/><circle cx="575.4" cy="711.6" r="5.1"/><circle cx="577.5" cy="720.0" r="5.1"/><circle cx="578.4" cy="722.7" r="5.1"/><circle cx="582.8" cy="733.4" r="5.1"/><circle cx="588.3" cy="741.8" r="5.1"/><circle cx="588.4" cy="743.9" r="5.1"/><circle cx="587.2" cy="751.4" r="5.1"/><circle cx="589.4" cy="761.2" r="5.1"/><circle cx="587.6" cy="760.1" r="5.1"/><circle cx="594.1" cy="766.5" r="5.1"/><circle cx="597.5" cy="769.7" r="5.1"/><circle cx="604.3" cy="777.6" r="5.1"/><circle cx="609.6" cy="780.2" r="5.1"/><circle cx="612.3" cy="783.8" r="5.1"/><circle cx="616.3" cy="793.6" r="5.1"/><circle cx="619.0" cy="795.8" r="5.1"/><circle cx="623.1" cy="802.5" r="5.1"/><circle cx="622.8" cy="806.0" r="5.1"/><circle cx="628.7" cy="808.3" r="5.1"/><circle cx="633.6" cy="816.6" r="5.1"/><circle cx="643.0" cy="820.5" r="5.1"/><circle cx="652.7" cy="828.8" r="5.1"/><circle cx="656.0" cy="827.8" r="5.1"/><circle cx="662.8" cy="833.9" r="5.1"/><circle cx="663.9" cy="837.9" r="5.1"/><circle cx="664.3" cy="838.3" r="5.1"/><circle cx="662.2" cy="835.8" r="5.1"/><circle cx="662.8" cy="825.8" r="5.1"/><circle cx="662.6" cy="822.9" r="5.1"/><circle cx="788.1" cy="532.6" r="5.1"/><circle cx="794.7" cy="491.4" r="5.1"/><circle cx="781.3" cy="544.8" r="5.1"/><circle cx="795.5" cy="528.1" r="5.1"/><circle cx="791.0" cy="532.9" r="5.1"/><circle cx="776.9" cy="515.2" r="5.1"/><circle cx="783.5" cy="512.4" r="5.1"/><circle cx="789.3" cy="487.3" r="5.1"/><circle cx="805.6" cy="555.7" r="5.1"/><circle cx="776.6" cy="505.0" r="5.1"/><circle cx="793.1" cy="493.1" r="5.1"/><circle cx="795.7" cy="484.1" r="5.1"/><circle cx="785.6" cy="513.5" r="5.1"/><circle cx="792.3" cy="518.1" r="5.1"/><circle cx="785.1" cy="482.4" r="5.1"/><circle cx="796.7" cy="557.4" r="5.1"/><circle cx="784.1" cy="509.1" r="5.1"/><circle cx="795.5" cy="533.9" r="5.1"/><circle cx="775.9" cy="498.8" r="5.1"/><circle cx="784.4" cy="520.9" r="5.1"/><circle cx="799.5" cy="520.0" r="5.1"/><circle cx="786.6" cy="521.5" r="5.1"/><circle cx="768.9" cy="695.5" r="5.1"/><circle cx="788.8" cy="581.7" r="5.1"/><circle cx="780.3" cy="598.9" r="5.1"/><circle cx="793.2" cy="679.7" r="5.1"/><circle cx="764.2" cy="733.6" r="5.1"/><circle cx="768.8" cy="729.2" r="5.1"/><circle cx="778.4" cy="709.8" r="5.1"/><circle cx="781.7" cy="643.1" r="5.1"/><circle cx="781.3" cy="708.4" r="5.1"/><circle cx="776.6" cy="591.2" r="5.1"/><circle cx="783.4" cy="636.1" r="5.1"/><circle cx="798.1" cy="634.9" r="5.1"/><circle cx="784.8" cy="587.8" r="5.1"/><circle cx="775.4" cy="733.0" r="5.1"/><circle cx="766.5" cy="730.0" r="5.1"/><circle cx="773.7" cy="701.9" r="5.1"/><circle cx="763.8" cy="754.1" r="5.1"/><circle cx="783.3" cy="703.2" r="5.1"/><circle cx="782.4" cy="676.2" r="5.1"/><circle cx="773.1" cy="704.2" r="5.1"/><circle cx="781.4" cy="666.4" r="5.1"/><circle cx="758.1" cy="759.6" r="5.1"/><circle cx="773.4" cy="726.1" r="5.1"/><circle cx="779.7" cy="652.2" r="5.1"/><circle cx="786.1" cy="615.8" r="5.1"/><circle cx="768.8" cy="695.2" r="5.1"/><circle cx="793.7" cy="608.0" r="5.1"/><circle cx="782.7" cy="627.9" r="5.1"/><circle cx="790.5" cy="594.0" r="5.1"/><circle cx="778.2" cy="668.7" r="5.1"/><circle cx="776.3" cy="583.1" r="5.1"/><circle cx="794.3" cy="577.9" r="5.1"/><circle cx="792.6" cy="599.7" r="5.1"/><circle cx="763.4" cy="719.8" r="5.1"/><circle cx="771.6" cy="738.0" r="5.1"/><circle cx="780.9" cy="580.8" r="5.1"/><circle cx="794.5" cy="585.7" r="5.1"/><circle cx="778.1" cy="631.2" r="5.1"/><circle cx="772.5" cy="719.4" r="5.1"/><circle cx="767.0" cy="702.3" r="5.1"/><circle cx="562.6" cy="534.3" r="5.1"/><circle cx="596.4" cy="562.8" r="5.1"/><circle cx="572.8" cy="480.7" r="5.1"/><circle cx="601.5" cy="529.0" r="5.1"/><circle cx="574.8" cy="532.1" r="5.1"/><circle cx="580.6" cy="543.3" r="5.1"/><circle cx="572.1" cy="546.5" r="5.1"/><circle cx="595.2" cy="468.0" r="5.1"/><circle cx="590.2" cy="529.7" r="5.1"/><circle cx="566.2" cy="528.2" r="5.1"/><circle cx="563.6" cy="490.4" r="5.1"/><circle cx="593.7" cy="554.7" r="5.1"/><circle cx="598.6" cy="463.4" r="5.1"/><circle cx="592.5" cy="526.0" r="5.1"/><circle cx="610.2" cy="511.7" r="5.1"/><circle cx="568.0" cy="504.3" r="5.1"/><circle cx="569.5" cy="545.8" r="5.1"/><circle cx="587.0" cy="462.3" r="5.1"/><circle cx="601.9" cy="463.7" r="5.1"/><circle cx="588.6" cy="461.2" r="5.1"/><circle cx="585.8" cy="532.2" r="5.1"/><circle cx="589.2" cy="504.6" r="5.1"/><circle cx="586.1" cy="502.4" r="5.1"/><circle cx="592.9" cy="461.4" r="5.1"/><circle cx="585.4" cy="478.4" r="5.1"/><circle cx="599.6" cy="518.6" r="5.1"/><circle cx="577.5" cy="518.3" r="5.1"/><circle cx="574.7" cy="472.6" r="5.1"/><circle cx="595.0" cy="506.3" r="5.1"/><circle cx="571.9" cy="496.5" r="5.1"/><circle cx="573.5" cy="562.3" r="5.1"/><circle cx="578.2" cy="480.2" r="5.1"/><circle cx="571.4" cy="522.5" r="5.1"/><circle cx="603.2" cy="494.2" r="5.1"/><circle cx="590.8" cy="521.5" r="5.1"/><circle cx="614.4" cy="540.9" r="5.1"/><circle cx="587.5" cy="551.0" r="5.1"/><circle cx="578.7" cy="496.1" r="5.1"/><circle cx="604.0" cy="487.7" r="5.1"/><circle cx="612.7" cy="523.5" r="5.1"/><circle cx="783.9" cy="439.0" r="5.1"/><circle cx="795.4" cy="501.8" r="5.1"/><circle cx="744.2" cy="460.6" r="5.1"/><circle cx="781.7" cy="453.7" r="5.1"/><circle cx="746.1" cy="447.4" r="5.1"/><circle cx="793.6" cy="524.9" r="5.1"/><circle cx="788.8" cy="446.8" r="5.1"/><circle cx="799.0" cy="481.4" r="5.1"/><circle cx="743.5" cy="474.7" r="5.1"/><circle cx="758.6" cy="429.5" r="5.1"/><circle cx="770.2" cy="463.2" r="5.1"/><circle cx="770.6" cy="531.6" r="5.1"/><circle cx="776.6" cy="468.6" r="5.1"/><circle cx="764.2" cy="533.4" r="5.1"/><circle cx="780.2" cy="506.3" r="5.1"/><circle cx="747.9" cy="479.4" r="5.1"/><circle cx="762.5" cy="520.9" r="5.1"/><circle cx="769.4" cy="468.2" r="5.1"/><circle cx="765.2" cy="441.5" r="5.1"/><circle cx="743.8" cy="457.3" r="5.1"/><circle cx="791.0" cy="458.2" r="5.1"/><circle cx="797.4" cy="460.3" r="5.1"/><circle cx="760.3" cy="428.9" r="5.1"/><circle cx="763.0" cy="433.8" r="5.1"/><circle cx="764.4" cy="465.1" r="5.1"/><circle cx="784.3" cy="454.5" r="5.1"/><circle cx="765.0" cy="477.7" r="5.1"/><circle cx="729.9" cy="521.2" r="5.1"/><circle cx="770.6" cy="475.5" r="5.1"/><circle cx="787.2" cy="491.2" r="5.1"/><circle cx="780.4" cy="450.7" r="5.1"/><circle cx="751.6" cy="497.8" r="5.1"/><circle cx="755.4" cy="461.7" r="5.1"/><circle cx="774.5" cy="504.6" r="5.1"/><circle cx="772.6" cy="457.4" r="5.1"/><circle cx="790.7" cy="516.1" r="5.1"/><circle cx="752.8" cy="466.6" r="5.1"/><circle cx="766.4" cy="437.3" r="5.1"/><circle cx="751.5" cy="529.6" r="5.1"/><circle cx="779.8" cy="457.8" r="5.1"/><circle cx="750.5" cy="492.6" r="5.1"/><circle cx="781.2" cy="460.8" r="5.1"/><circle cx="793.9" cy="507.5" r="5.1"/><circle cx="733.7" cy="520.2" r="5.1"/><circle cx="771.1" cy="460.2" r="5.1"/><circle cx="732.9" cy="461.2" r="5.1"/><circle cx="784.0" cy="485.7" r="5.1"/><circle cx="763.7" cy="528.8" r="5.1"/><circle cx="756.5" cy="514.6" r="5.1"/><circle cx="737.4" cy="498.7" r="5.1"/><circle cx="574.8" cy="496.9" r="5.1"/><circle cx="606.8" cy="487.6" r="5.1"/><circle cx="578.5" cy="499.6" r="5.1"/><circle cx="556.6" cy="492.2" r="5.1"/><circle cx="586.8" cy="519.7" r="5.1"/><circle cx="550.4" cy="471.7" r="5.1"/><circle cx="550.2" cy="521.3" r="5.1"/><circle cx="591.2" cy="446.1" r="5.1"/><circle cx="588.5" cy="502.3" r="5.1"/><circle cx="579.9" cy="447.8" r="5.1"/><circle cx="556.9" cy="465.7" r="5.1"/><circle cx="546.0" cy="487.5" r="5.1"/><circle cx="574.0" cy="524.6" r="5.1"/><circle cx="579.3" cy="504.7" r="5.1"/><circle cx="578.0" cy="506.9" r="5.1"/><circle cx="575.1" cy="469.3" r="5.1"/><circle cx="601.1" cy="511.4" r="5.1"/><circle cx="565.4" cy="464.5" r="5.1"/><circle cx="563.7" cy="448.9" r="5.1"/><circle cx="596.1" cy="481.2" r="5.1"/><circle cx="601.6" cy="479.9" r="5.1"/><circle cx="609.1" cy="525.0" r="5.1"/><circle cx="605.9" cy="488.1" r="5.1"/><circle cx="549.0" cy="503.7" r="5.1"/><circle cx="596.9" cy="468.4" r="5.1"/><circle cx="549.9" cy="474.6" r="5.1"/><circle cx="609.6" cy="516.3" r="5.1"/><circle cx="552.0" cy="466.1" r="5.1"/><circle cx="598.2" cy="459.4" r="5.1"/><circle cx="582.0" cy="485.8" r="5.1"/><circle cx="557.0" cy="513.7" r="5.1"/><circle cx="552.9" cy="505.1" r="5.1"/><circle cx="551.9" cy="483.2" r="5.1"/><circle cx="558.5" cy="468.4" r="5.1"/><circle cx="610.0" cy="520.7" r="5.1"/><circle cx="564.7" cy="528.7" r="5.1"/><circle cx="558.3" cy="480.6" r="5.1"/><circle cx="602.1" cy="504.9" r="5.1"/><circle cx="550.8" cy="539.0" r="5.1"/><circle cx="558.5" cy="467.3" r="5.1"/><circle cx="596.5" cy="474.2" r="5.1"/><circle cx="564.2" cy="449.2" r="5.1"/><circle cx="550.1" cy="499.1" r="5.1"/><circle cx="560.5" cy="500.9" r="5.1"/><circle cx="569.3" cy="486.4" r="5.1"/>
</g>
<circle cx="1203.2" cy="490.3" r="5.1" fill="#F8766D" fill-opacity="0.6" stroke="#F8766D" stroke-opacity="0.6" stroke-width="2"/>
<text x="63.5" y="845.5" text-anchor="end" font-size="23" fill="#4D4D4D">0</text><text x="63.5" y="635.9" text-anchor="end" font-size="23" fill="#4D4D4D">1</text><text x="63.5" y="426.3" text-anchor="end" font-size="23" fill="#4D4D4D">2</text><text x="63.5" y="216.7" text-anchor="end" font-size="23" fill="#4D4D4D">3</text><text x="266.5" y="903.8" text-anchor="middle" font-size="23" fill="#4D4D4D">-2</text><text x="467.0" y="903.8" text-anchor="middle" font-size="23" fill="#4D4D4D">-1</text><text x="667.5" y="903.8" text-anchor="middle" font-size="23" fill="#4D4D4D">0</text><text x="868.0" y="903.8" text-anchor="middle" font-size="23" fill="#4D4D4D">1</text><text x="1068.5" y="903.8" text-anchor="middle" font-size="23" fill="#4D4D4D">2</text><text x="77.2" y="40.6" font-size="36" textLength="389" lengthAdjust="spacingAndGlyphs" fill="#000">limma-voom: res_0_vs_1</text><text x="607" y="938.6" text-anchor="middle" font-size="29.3" fill="#000">log2 fold-change</text><text transform="translate(36.2,469) rotate(-90)" text-anchor="middle" font-size="29" fill="#000">-log10(p-value)</text><text x="1179.3" y="449" font-size="30" fill="#000">sig</text><text x="1240.8" y="498.8" font-size="23.8" fill="#000">FALSE</text>
</svg>
</body></html>
